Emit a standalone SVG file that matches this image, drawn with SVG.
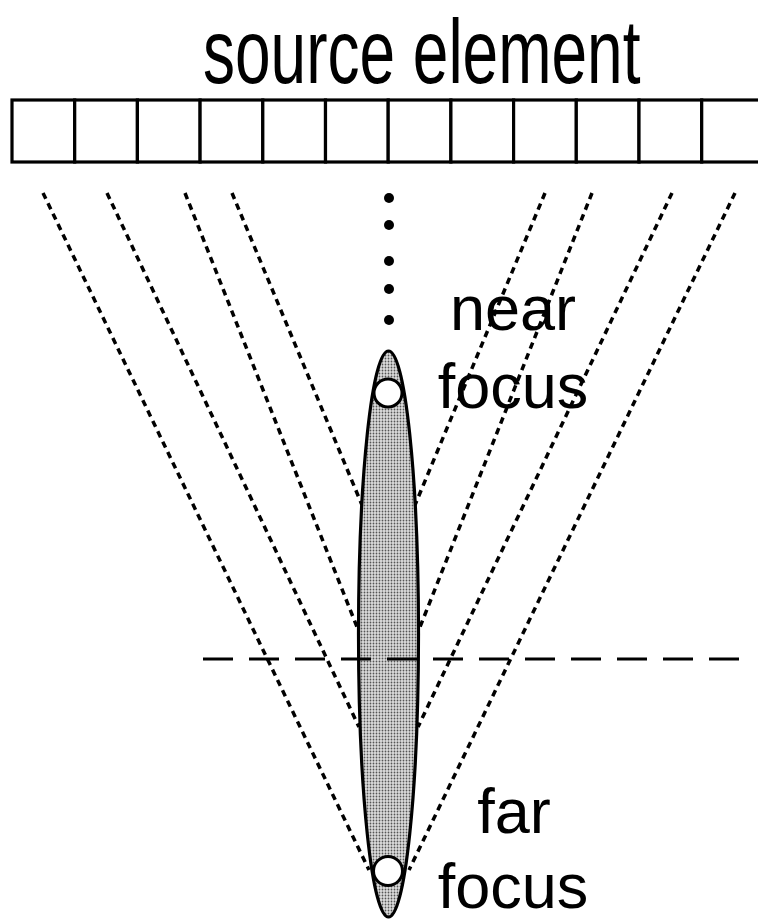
<svg xmlns="http://www.w3.org/2000/svg" width="758" height="921" viewBox="0 0 758 921">
<style>
.txt{font-family:"Liberation Sans",Arial,sans-serif;fill:#000}
.cell{fill:#fff;stroke:#000;stroke-width:3.2}
.ray{stroke:#000;stroke-width:3.5;stroke-dasharray:6.5 5;fill:none}
.dot{fill:#000}
.focus{fill:#fff;stroke:#000;stroke-width:3}
</style>
<defs>
<pattern id="stip" width="3" height="3" patternUnits="userSpaceOnUse">
<rect width="3" height="3" fill="#dcdcdc"/>
<circle cx="1.5" cy="1.5" r="0.9" fill="#555"/>
</pattern>
</defs>
<rect width="758" height="921" fill="#fff"/>
<g id="source-element">
<text class="txt" font-size="64" transform="translate(203,83) scale(1,1.42)">source element</text>
<rect class="cell" x="12" y="100" width="62.7" height="62"/>
<rect class="cell" x="74.7" y="100" width="62.7" height="62"/>
<rect class="cell" x="137.4" y="100" width="62.7" height="62"/>
<rect class="cell" x="200.1" y="100" width="62.7" height="62"/>
<rect class="cell" x="262.8" y="100" width="62.7" height="62"/>
<rect class="cell" x="325.5" y="100" width="62.7" height="62"/>
<rect class="cell" x="388.2" y="100" width="62.7" height="62"/>
<rect class="cell" x="450.9" y="100" width="62.7" height="62"/>
<rect class="cell" x="513.6" y="100" width="62.7" height="62"/>
<rect class="cell" x="576.3" y="100" width="62.7" height="62"/>
<rect class="cell" x="639" y="100" width="62.7" height="62"/>
<rect class="cell" x="701.7" y="100" width="62.7" height="62"/>
</g>
<g id="connectors">
<line class="ray" x1="43" y1="193" x2="369" y2="870"/>
<line class="ray" x1="107" y1="193" x2="359" y2="727"/>
<line class="ray" x1="185" y1="193" x2="357" y2="627"/>
<line class="ray" x1="232" y1="193" x2="362" y2="505"/>
<line class="ray" x1="545" y1="193" x2="415" y2="505"/>
<line class="ray" x1="592" y1="193" x2="420" y2="627"/>
<line class="ray" x1="672" y1="193" x2="418" y2="727"/>
<line class="ray" x1="735" y1="193" x2="409" y2="870"/>
</g>
<g id="ellipsis-dots">
<circle class="dot" cx="389" cy="198" r="5"/>
<circle class="dot" cx="389" cy="225" r="5"/>
<circle class="dot" cx="389" cy="261" r="5"/>
<circle class="dot" cx="389" cy="289" r="5"/>
<circle class="dot" cx="389" cy="320" r="5"/>
</g>
<g id="focal-zone">
<ellipse cx="388.5" cy="634" rx="30" ry="283" fill="url(#stip)" stroke="#000" stroke-width="3.2"/>
</g>
<g id="depth-line">
<line x1="203" y1="659" x2="742" y2="659" stroke="#000" stroke-width="3" stroke-dasharray="30 16"/>
</g>
<g id="near-focus">
<circle class="focus" cx="388" cy="393" r="14"/>
<text class="txt" x="513" y="330" font-size="63" text-anchor="middle">near</text>
<text class="txt" x="513" y="408" font-size="63" text-anchor="middle">focus</text>
</g>
<g id="far-focus">
<circle class="focus" cx="388" cy="871" r="14.5"/>
<text class="txt" x="514" y="833" font-size="63" text-anchor="middle">far</text>
<text class="txt" x="513" y="908" font-size="63" text-anchor="middle">focus</text>
</g>
</svg>
